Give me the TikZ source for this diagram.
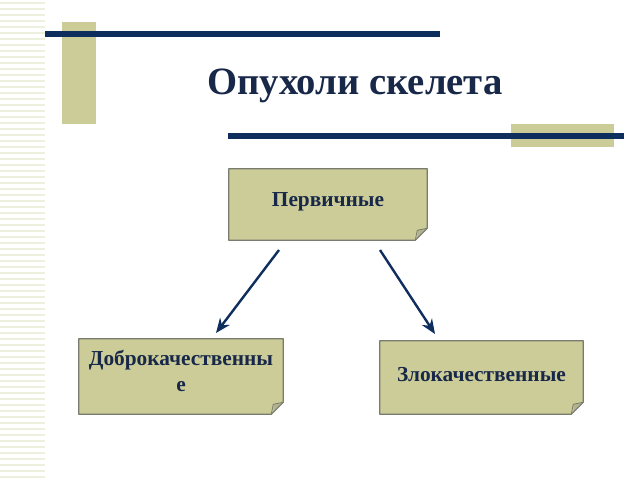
\documentclass[tikz,border=0pt]{standalone}
\usepackage{fontspec}
\setmainfont{Liberation Serif}
\usetikzlibrary{arrows.meta,calc}
\definecolor{khaki}{RGB}{204,204,153}
\definecolor{navy}{RGB}{14,46,94}
\definecolor{txtnavy}{RGB}{24,40,72}
\definecolor{stripe}{RGB}{238,240,222}
\definecolor{boxline}{RGB}{120,124,110}
\definecolor{fold}{RGB}{178,178,140}
\tikzset{
  bar/.style={draw=navy,line width=3.8pt},
  blockbox/.style={minimum width=#1,inner sep=0pt,font=\fontsize{16pt}{19.5pt}\selectfont\bfseries,text=txtnavy,align=center},
  arr/.style={draw=navy,line width=1.8pt,-{Stealth[length=11pt,width=9pt]}},
}
\newcommand{\notebox}[1]{%
  \fill[khaki] (#1.north west) -- (#1.north east) -- ([yshift=9pt]#1.south east) -- ([xshift=-9pt]#1.south east) -- (#1.south west) -- cycle;
  \fill[fold] ([yshift=9pt]#1.south east) -- ([xshift=-9pt]#1.south east) .. controls ([xshift=-7pt,yshift=3pt]#1.south east) .. ([xshift=-7.5pt,yshift=7.5pt]#1.south east) -- cycle;
  \draw[boxline,line width=0.8pt,line join=round] (#1.north west) -- (#1.north east) -- ([yshift=9pt]#1.south east) -- ([xshift=-9pt]#1.south east) -- (#1.south west) -- cycle;
  \draw[boxline,line width=0.6pt] ([yshift=9pt]#1.south east) -- ([xshift=-7.5pt,yshift=7.5pt]#1.south east) -- ([xshift=-9pt]#1.south east);
}
\begin{document}
\begin{tikzpicture}[x=0.75pt,y=-0.75pt]
\useasboundingbox[fill=white] (0,0) rectangle (640,480);
% left stripes
\foreach \i [evaluate=\i as \yy using 6*\i+3, evaluate=\i as \w using {mod(\i,3)==0 ? 2.2 : (mod(\i,3)==1 ? 1.4 : 1.8)}] in {0,...,79} {
  \draw[stripe,line width=\w pt] (0,\yy) -- (45,\yy);
}
% decorations
\fill[khaki] (62,22) rectangle (96,124);
\draw[bar] (45,34) -- (440,34);
\fill[khaki] (511,124) rectangle (614,147);
\draw[bar] (228,136) -- (624,136);
% title
\node[font=\fontsize{29pt}{34pt}\selectfont\bfseries,text=txtnavy] (title) at (355,86) {Опухоли скелета};
% boxes (shapes first, text on top)
\path (328,204.5) coordinate (c1) (181,376.5) coordinate (c2) (481.5,377.5) coordinate (c3);
\node[blockbox=148.5pt,minimum height=53.25pt] (prim) at (c1) {\phantom{Первичные}};
\node[blockbox=153pt,minimum height=56.25pt] (benign) at (c2) {\phantom{Доброкачественны}};
\node[blockbox=152.25pt,minimum height=54.75pt] (malig) at (c3) {\phantom{Злокачественные}};
\notebox{prim}
\notebox{benign}
\notebox{malig}
\node[blockbox=148.5pt] (primtext) at ([yshift=2pt]prim.center) {Первичные};
\node[blockbox=153pt] (benigntext) at ([yshift=4.5pt]benign.center) {Доброкачественны\\е};
\node[blockbox=152.25pt] (maligtext) at ([yshift=2.5pt]malig.center) {Злокачественные};
% arrows
\coordinate (a1s) at (279,250);
\coordinate (a1e) at (216,333);
\coordinate (a2s) at (380,250);
\coordinate (a2e) at (435,334);
\draw[arr] (a1s) -- (a1e);
\draw[arr] (a2s) -- (a2e);
\end{tikzpicture}
\end{document}
